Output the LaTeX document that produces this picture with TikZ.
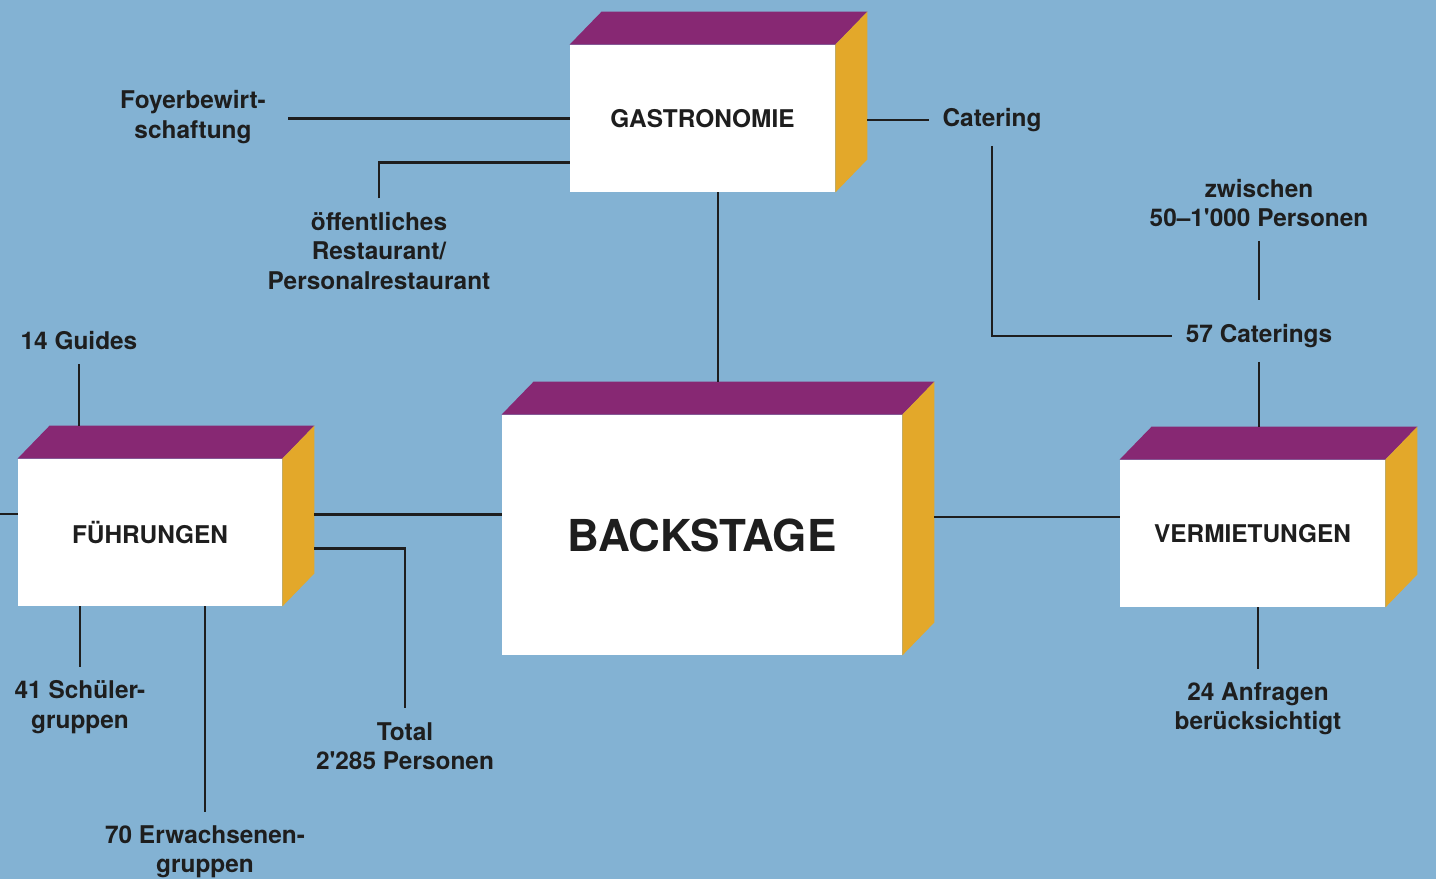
\documentclass[tikz,border=0pt]{standalone}
\usepackage{fontspec}
\setmainfont{TeX Gyre Heros}[Ligatures=TeXOff]
\usetikzlibrary{positioning}
\tikzset{every node/.append style={align=center}}
\definecolor{bgblue}{RGB}{131,178,211}
\definecolor{lidcol}{RGB}{135,40,115}
\definecolor{flankcol}{RGB}{227,168,42}
\definecolor{inkcol}{RGB}{30,30,30}
\tikzset{
  front/.style={fill=white, inner sep=0pt, text=inkcol,
                font=\fontsize{12.2}{14}\selectfont\bfseries},
  lbl/.style={inner sep=0pt, outer sep=7pt, text=inkcol,
              font=\fontsize{12.2}{14.75}\selectfont\bfseries},
  link/.style={inkcol, line width=1.2pt},
}

\begin{document}
\begin{tikzpicture}[x=0.5pt,y=-0.5pt]

% ── Background ───────────────────────────────────────────────────────────────
\fill[bgblue] (0,0) rectangle (1436,879);
\useasboundingbox (0,0) rectangle (1436,879);

% ── Blocks (front faces) ─────────────────────────────────────────────────────
\node[front, minimum width=132.5pt, minimum height=73.5pt] (gastro)
     at (702.5,118.5) {GASTRONOMIE};
\node[front, minimum width=200pt, minimum height=120pt,
      font=\fontsize{22}{26}\selectfont\bfseries] (backstage)
     at (702,535) {BACKSTAGE};
\node[front, minimum width=132pt, minimum height=73.5pt] (fuehr)
     at (150,532.5) {FÜHRUNGEN};
\node[front, minimum width=132.5pt, minimum height=73.5pt] (vermiet)
     at (1252.5,533.5) {VERMIETUNGEN};

% top and side faces
\foreach \blk in {gastro, backstage, fuehr, vermiet} {
  \fill[lidcol] (\blk.north west) -- ++(32,-33)
       -- ([shift={(32,-33)}]\blk.north east) -- (\blk.north east) -- cycle;
  \fill[flankcol] (\blk.north east) -- ++(32,-33)
       -- ([shift={(32,-33)}]\blk.south east) -- (\blk.south east) -- cycle;
  \coordinate (\blk-r) at ([shift={(32,-18)}]\blk.east);
  \coordinate (\blk-t) at ([shift={(16,-33)}]\blk.north);
}

% ── Labels ───────────────────────────────────────────────────────────────────
\node[lbl, outer sep=11pt] (foyer) at (193,117) {Foyerbewirt-\\schaftung};
\node[lbl] (restaurant) at (379,251)
      {öffentliches\\Restaurant/\\Personalrestaurant};
\node[lbl] (catering) at (992,120) {Catering};
\node[lbl] (zwischen) at (1259,203) {zwischen\\50–1'000 Personen};
\node[lbl] (caterings) at (1259,336) {57 Caterings};
\node[lbl] (anfragen) at (1258,709) {24 Anfragen\\berücksichtigt};
\node[lbl] (guides) at (79,341) {14 Guides};
\node[lbl] (schueler) at (80,707) {41 Schüler-\\gruppen};
\node[lbl] (erwachsene) at (205,852) {70 Erwachsenen-\\gruppen};
\node[lbl] (total) at (405,746) {Total\\2'285 Personen};

% ── Gastronomie links ────────────────────────────────────────────────────────
\draw[link] (gastro.west) -- (gastro.west -| foyer.east);
\draw[link] (restaurant.north) |- ([yshift=-22pt]gastro.west);
\draw[link] (gastro-r |- catering.west) -- (catering.west);
\draw[link] (gastro.south -| backstage-t) -- (backstage-t);

% ── Catering / Vermietungen links ────────────────────────────────────────────
\draw[link] (catering.south) |- (caterings.west);
\draw[link] (zwischen.south) -- ([yshift=5pt]caterings.north);
\draw[link] (caterings.south) -- (caterings.south |- vermiet-t);
\draw[link] (anfragen.north) -- (anfragen.north |- vermiet.south);

% ── Backstage links ──────────────────────────────────────────────────────────
\draw[link] (fuehr-r) -- (fuehr-r -| backstage.west);
\draw[link] (backstage-r) -- (backstage-r -| vermiet.west);
\coordinate (edgeW) at (0,514);
\draw[link] (fuehr.west |- edgeW) -- (edgeW);

% ── Führungen links ──────────────────────────────────────────────────────────
\draw[link] (guides.south) -- (guides.south |- fuehr-t);
\draw[link] (schueler.north) -- (schueler.north |- fuehr.south);
\draw[link] (erwachsene.north) -- (erwachsene.north |- fuehr.south);
\draw[link] ([yshift=-17pt]fuehr-r) -| (total.north);

\end{tikzpicture}
\end{document}
